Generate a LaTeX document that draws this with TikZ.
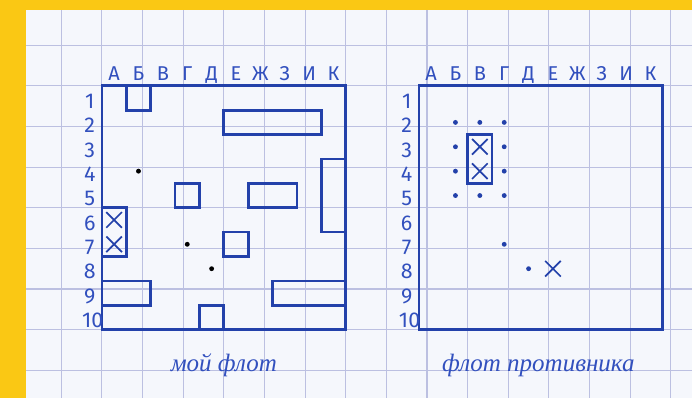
\documentclass[tikz,border=0pt]{standalone}
\usepackage{fontspec}
\newfontfamily\capfont{Fira Sans}
\newfontfamily\cursfont{Liberation Serif}
\definecolor{frameYellow}{RGB}{250,200,20}
\definecolor{paperWhite}{RGB}{245,247,252}
\definecolor{gridBlue}{RGB}{188,192,225}
\definecolor{inkBlue}{RGB}{35,65,170}
\definecolor{penBlue}{RGB}{50,80,190}
% cross in a cell, given its centre
\newcommand{\hitcell}[2]{%
  \draw[hitmark,shift={(#1,#2)}] (-0.32,-0.32) -- (0.32,0.32) (-0.32,0.32) -- (0.32,-0.32);}

\begin{document}
\begin{tikzpicture}[x=6mm,y=6mm,
  gridline/.style={draw=gridBlue,line width=0.8pt},
  frame/.style={draw=inkBlue,line width=1.9pt},
  ship/.style={draw=inkBlue,line width=1.9pt},
  hitmark/.style={draw=inkBlue,line width=1.2pt},
  collabel/.style={text=penBlue,anchor=base,inner sep=0pt,font=\capfont\fontsize{14}{14}\selectfont},
  rowlabel/.style={text=penBlue,anchor=base,inner sep=0pt,font=\capfont\fontsize{15}{15}\selectfont},
  caption/.style={text=penBlue,anchor=base,font=\cursfont\itshape\fontsize{17.5}{17.5}\selectfont}]
  % page
  \fill[frameYellow] (-4.18,3.52) rectangle (24.22,-12.79);
  \fill[paperWhite] (-3.11,3.11) rectangle (24.22,-12.79);
  \draw[gridline] (-3.11,3.11) grid (24.22,-12.79);
  \useasboundingbox (-4.18,3.52) rectangle (24.22,-12.79);

  % both boards
  \foreach \bx/\tag in {0/my,13/foe}{
    \draw[frame] (\bx,0) rectangle ++(10,-10);
    \foreach \l [count=\i] in {А,Б,В,Г,Д,Е,Ж,З,И,К}
      \node[collabel] (\tag-col-\i) at (\bx+\i-0.5,0.2) {\l};
    \foreach \r in {1,...,9}
      \node[rowlabel] (\tag-row-\r) at (\bx-0.5,-\r+0.08) {\r};
    \node[rowlabel] (\tag-row-10) at (\bx-0.38,-9.92) {10};
  }

  % my fleet
  \draw[ship] (1,0) rectangle (2,-1);
  \draw[ship] (5,-1) rectangle (9,-2);
  \draw[ship] (9,-3) rectangle (10,-6);
  \draw[ship] (3,-4) rectangle (4,-5);
  \draw[ship] (6,-4) rectangle (8,-5);
  \draw[ship] (0,-5) rectangle (1,-7);
  \draw[ship] (5,-6) rectangle (6,-7);
  \draw[ship] (0,-8) rectangle (2,-9);
  \draw[ship] (7,-8) rectangle (10,-9);
  \draw[ship] (4,-9) rectangle (5,-10);
  \hitcell{0.5}{-5.5}
  \hitcell{0.5}{-6.5}
  \foreach \p in {(1.5,-3.5),(3.5,-6.5),(4.5,-7.5)}
    \fill[black] \p circle (0.1);

  % enemy fleet
  \draw[ship] (15,-2) rectangle (16,-4);
  \hitcell{15.5}{-2.5}
  \hitcell{15.5}{-3.5}
  \hitcell{18.5}{-7.5}
  \foreach \p in {(14.5,-1.5),(15.5,-1.5),(16.5,-1.5),(14.5,-2.5),(16.5,-2.5),
                  (14.5,-3.5),(16.5,-3.5),(14.5,-4.5),(15.5,-4.5),(16.5,-4.5),
                  (16.5,-6.5),(17.5,-7.5)}
    \fill[inkBlue] \p circle (0.1);

  \node[caption] (my-cap) at (5,-11.72) {мой флот};
  \node[caption] (foe-cap) at (17.9,-11.72) {флот противника};
\end{tikzpicture}
\end{document}
